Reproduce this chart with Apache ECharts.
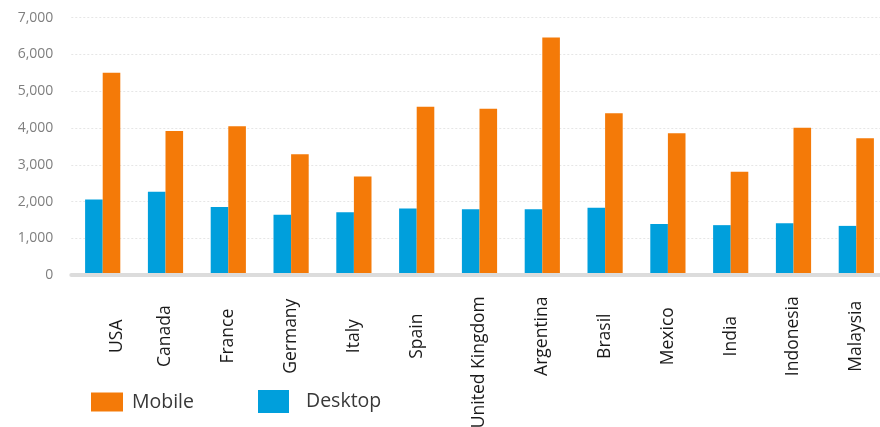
<!DOCTYPE html>
<html>
<head>
<meta charset="utf-8">
<script src="https://cdn.jsdelivr.net/npm/echarts@6/dist/echarts.min.js"></script>
<style>
html,body{margin:0;padding:0;background:#fff;}
#chart{width:880px;height:427px;}
</style>
</head>
<body>
<div id="chart"></div>
<script>
const categories = ['USA','Canada','France','Germany','Italy','Spain','United Kingdom','Argentina','Brasil','Mexico','India','Indonesia','Malaysia'];
const desktop = [2060,2270,1850,1640,1710,1810,1790,1790,1830,1390,1360,1410,1340];
const mobile  = [5500,3920,4050,3290,2680,4580,4520,6460,4400,3860,2810,4010,3720];
const yTicks = { min: 0, max: 7000, interval: 1000 };

const chart = echarts.init(document.getElementById('chart'));
chart.setOption({
  animation: false,
  backgroundColor: '#ffffff',
  grid: { left: 71.3, right: -7.7, top: 17.6, bottom: 151.8, containLabel: false, outerBoundsMode: 'none' },
  legend: [
    {
      data: ['Mobile'], left: 86, top: 387, itemWidth: 32, itemHeight: 19,
      icon: 'rect', itemGap: 0,
      textStyle: { fontFamily: 'Open Sans', fontSize: 19.5, color: '#383838', padding: [0,0,0,4] }
    },
    {
      data: ['Desktop'], left: 253, top: 385, itemWidth: 31, itemHeight: 23,
      icon: 'rect', itemGap: 0,
      textStyle: { fontFamily: 'Open Sans', fontSize: 19.5, color: '#383838', padding: [0,0,0,12] }
    }
  ],
  xAxis: {
    type: 'category',
    data: categories,
    z: 5,
    axisLine: { show: true, lineStyle: { color: '#dcdcdc', width: 4 } },
    axisTick: { show: false },
    axisLabel: {
      rotate: 90,
      align: 'center',
      margin: 61,
      interval: 0,
      fontFamily: 'Open Sans',
      fontSize: 17.5,
      color: '#1a1a1a',
      formatter: function (v) {
        if (v === 'United Kingdom') return '{uk|' + v + '}';
        if (v === 'USA') return '{us|' + v + '}';
        return v;
      },
      rich: {
        uk: { fontFamily: 'Open Sans', fontSize: 17.5, color: '#1a1a1a', padding: [0, 52, 0, 0] },
        us: { fontFamily: 'Open Sans', fontSize: 17.5, color: '#1a1a1a', padding: [28, 0, 0, 0] }
      }
    }
  },
  yAxis: {
    type: 'value',
    min: yTicks.min, max: yTicks.max, interval: yTicks.interval,
    axisLine: { show: false },
    axisTick: { show: false },
    splitLine: { show: true, lineStyle: { color: '#e6e6e6', type: [2, 2], width: 1 } },
    axisLabel: {
      margin: 18,
      fontFamily: 'Open Sans',
      fontSize: 14,
      color: '#7f7f7f',
      formatter: function (v) { return v.toLocaleString('en-US'); }
    }
  },
  series: [
    {
      name: 'Desktop', type: 'bar', data: desktop,
      barWidth: 17.6, barGap: '0%',
      itemStyle: { color: '#009fdc' }
    },
    {
      name: 'Mobile', type: 'bar', data: mobile,
      barWidth: 17.6, barGap: '0%',
      itemStyle: { color: '#f47a08' }
    }
  ]
});
</script>
</body>
</html>
